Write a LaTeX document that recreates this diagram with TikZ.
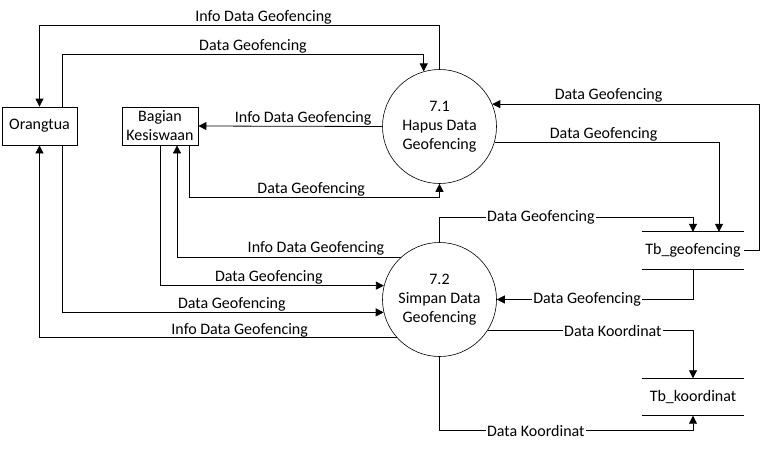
\documentclass[tikz,border=0pt]{standalone}
\usepackage{fontspec}
\setmainfont{Carlito}
\usetikzlibrary{arrows.meta, positioning}

\begin{document}
\begin{tikzpicture}[x=1pt, y=-1pt, >={Triangle[length=8pt, width=8pt]},
  font=\fontsize{16}{19}\selectfont,
  entitas/.style={draw, line width=0.8pt, minimum height=38pt, inner sep=1pt, align=center},
  proses/.style={draw, circle, line width=0.6pt, minimum size=114pt, inner sep=0pt, align=center},
  simpan/.style={minimum width=102pt, minimum height=37pt, inner sep=0pt},
  flow/.style={->, line width=0.8pt},
  lbl/.style={above, inner sep=1pt},
  lblin/.style={fill=white, inner sep=1pt}]
  \useasboundingbox (0,0) rectangle (760,448);

  % Entitas luar
  \node[entitas, minimum width=75pt] (orangtua) at (39.5,126) {Orangtua};
  \node[entitas, minimum width=76pt] (bagian) at (160,126) {Bagian\\Kesiswaan};

  % Proses
  \node[proses] (p71) at (439.5,126.5) {7.1\\Hapus Data\\Geofencing};
  \node[proses] (p72) at (439.5,299.5) {7.2\\Simpan Data\\Geofencing};

  % Data store
  \node[simpan] (tbgeo) at (693,250.5) {Tb\_geofencing};
  \node[simpan] (tbkoor) at (693,397) {Tb\_koordinat};
  \draw[line width=0.8pt] (tbgeo.north west) -- (tbgeo.north east)
    (tbgeo.south west) -- (tbgeo.south east);
  \draw[line width=0.8pt] (tbkoor.north west) -- (tbkoor.north east)
    (tbkoor.south west) -- (tbkoor.south east);

  % Aliran proses 7.1
  \draw[flow] (p71.north) -- ++(0,-44) -| node[lbl, pos=.22] {Info Data Geofencing} (orangtua.north);
  \draw[flow] ([xshift=22.5pt]orangtua.north) -- ++(0,-52) -| node[lbl, pos=.264] {Data Geofencing} (p71.106);
  \draw[flow] (p71.west) -- node[lbl, pos=.43] {Info Data Geofencing} (bagian.east);
  \draw[flow] ([xshift=29pt]bagian.south) -- ++(0,52) -| node[lbl, pos=.244] {Data Geofencing} (p71.south);
  \draw[flow] (tbgeo.east) -- ++(15,0) |- node[lbl, pos=.782] {Data Geofencing} (p71.23);
  \draw[flow] (p71.-16) -| node[lbl, pos=.243] {Data Geofencing} ([xshift=26pt]tbgeo.north);

  % Aliran proses 7.2
  \draw[flow] (p72.north) -- ++(0,-25) -| node[lblin, pos=.2] {Data Geofencing} (tbgeo.north);
  \draw[flow] (p72.132) -| node[lbl, pos=.19] {Info Data Geofencing} ([xshift=17pt]bagian.south);
  \draw[flow] (bagian.south) |- node[lbl, pos=.743] {Data Geofencing} (p72.166);
  \draw[flow] ([xshift=22.5pt]orangtua.south) |- node[lbl, pos=.764] {Data Geofencing} (p72.193);
  \draw[flow] (p72.222) -| node[lbl, pos=.22, inner sep=0pt] {Info Data Geofencing} (orangtua.south);
  \draw[flow] (tbgeo.south) |- node[lblin, pos=.77] {Data Geofencing} (p72.east);
  \draw[flow] (p72.-33) -| node[lblin, pos=.305] {Data Koordinat} (tbkoor.north);
  \draw[flow] (p72.south) -- ++(0,74) -| node[lblin, pos=.19] {Data Koordinat} (tbkoor.south);
\end{tikzpicture}
\end{document}
